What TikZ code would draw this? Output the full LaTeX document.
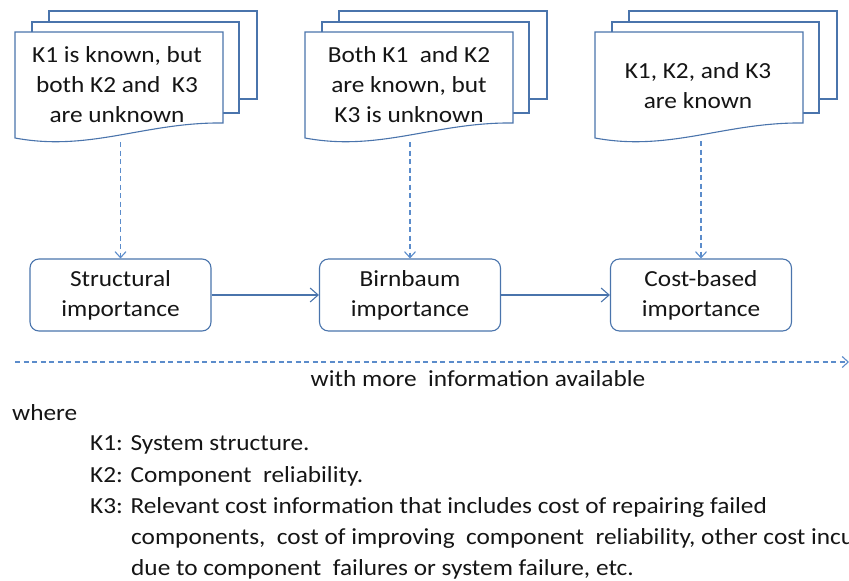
\documentclass[tikz,border=0pt]{standalone}
\usepackage{fontspec}
\setmainfont{Carlito}[FakeStretch=1.1]
\usetikzlibrary{arrows.meta}

\definecolor{lineblue}{HTML}{4A74AC}
\definecolor{dashblue}{HTML}{5B8CCB}
\definecolor{txt}{HTML}{151515}

% a stack of three pages, the front one with a wavy lower edge
\newcommand\docstack[1]{%
  \begin{scope}[shift={(#1,0)}]
    \draw[page] (34,11) rectangle (242,99);
    \draw[page] (17,22) rectangle (224,113);
    \draw[page] (0,32) -- (208,32) -- (208,123)
      .. controls (130,122) and (75,152) .. (0,138) -- cycle;
  \end{scope}}

\begin{document}
\begin{tikzpicture}[x=1pt,y=-1pt,
  page/.style={draw=lineblue, line width=1.1pt, fill=white},
  doctext/.style={align=center, text=txt, font=\fontsize{23}{30}\selectfont},
  imp/.style={draw=lineblue, line width=1.1pt, rounded corners=9pt,
    minimum width=181pt, minimum height=72pt, inner sep=0pt,
    align=center, text=txt, font=\fontsize{23}{30}\selectfont},
  flow/.style={draw=lineblue, line width=1.1pt,
    -{Straight Barb[length=8pt,width=14pt]}},
  feed/.style={draw=dashblue, line width=1.1pt, dash pattern=on 5pt off 3.5pt,
    -{Straight Barb[length=6pt,width=11pt]}},
  legend/.style={anchor=west, text=txt, inner sep=0pt,
    font=\fontsize{23}{30}\selectfont}]

\clip (0,0) rectangle (849,581);

% information states
\docstack{15}
\docstack{305}
\docstack{595}
\node[doctext] (d1) at (117,85) {K1 is known, but\\both K2 and \ K3\\are unknown};
\node[doctext] (d2) at (409,85) {Both K1 \ and K2\\are known, but\\K3 is unknown};
\node[doctext] (d3) at (698,86) {K1, K2, and K3\\are known};

% importance measures
\node[imp] (s1) at (120.5,295) {Structural\\importance};
\node[imp] (s2) at (410,295) {Birnbaum\\importance};
\node[imp] (s3) at (701,295) {Cost-based\\importance};

\coordinate (f1) at (120.5,142);
\coordinate (f2) at (410,142);
\coordinate (f3) at (701,141);
\draw[feed] (f1) -- (s1);
\draw[feed] (f2) -- (s2);
\draw[feed] (f3) -- (s3);

\draw[flow] (s1) -- (s2);
\draw[flow] (s2) -- (s3);

% direction of increasing information
\coordinate (ls) at (15,362);
\coordinate (le) at (849,362);
\draw[feed] (ls) -- (le);
\node[doctext] (more) at (478,379) {with more \ information available};

% legend
\node[legend] (w)  at (12,413)  {where};
\node[legend] (k1) at (90,445)  {K1: System structure.};
\node[legend] (k2) at (90,476)  {K2: Component \ reliability.};
\node[legend] (k3) at (90,507)  {K3: Relevant cost information that includes cost of repairing failed};
\node[legend] (k3b) at (131,538) {components, \ cost of improving \ component \ reliability, other cost incurred};
\node[legend] (k3c) at (131,569) {due to component \ failures or system failure, etc.};
\end{tikzpicture}
\end{document}
